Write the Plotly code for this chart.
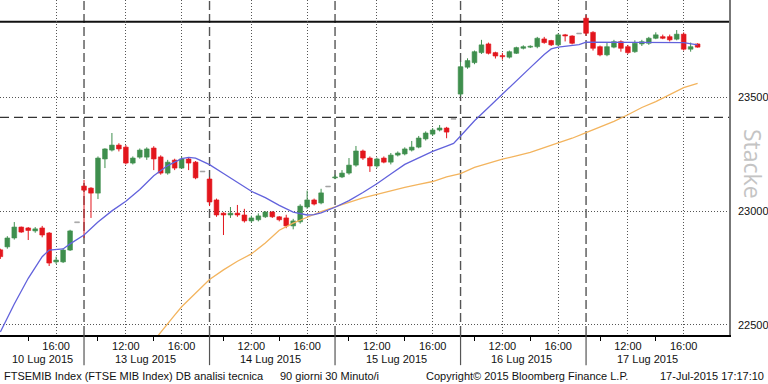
import plotly.graph_objects as go

# ---------------- data ----------------
day_labels = ["10 Lug 2015", "13 Lug 2015", "14 Lug 2015", "15 Lug 2015", "16 Lug 2015", "17 Lug 2015"]
slots_per_day = 18          # 30-minute bars 09:00 ... 17:30
first_slot = 6              # first visible bar: 10 Lug 12:00
major_slots = [6, 14]       # 12:00, 16:00
major_labels = ["12:00", "16:00"]
minor_slots = [2, 10]       # 10:00, 14:00

opens = [
    22830, 22843, 22882, 22930, 22926, 22913, 22926, 22904, 22777, 22777, 22829, 22949,
    23110, 23101, 23079, 23229, 23268, 23290, 23281, 23211, 23237, 23237, 23277, 23238, 23167, 23224, 23189, 23229, 23215, 23172,
    23141, 23049, 22991, 22983, 22991, 22983, 22957, 22962, 22975, 22996, 22975, 22970, 22935, 22953, 23018, 23049, 23036, 23106,
    23146, 23150, 23167, 23202, 23264, 23233, 23198, 23233, 23215, 23246, 23251, 23268, 23281, 23317, 23338, 23356, 23365, 23403,
    23514, 23632, 23652, 23696, 23734, 23696, 23683, 23676, 23693, 23715, 23720, 23722, 23756, 23749, 23730, 23774, 23769, 23778,
    23847, 23785, 23722, 23686, 23720, 23744, 23722, 23700, 23734, 23737, 23759, 23766, 23766, 23755, 23777, 23711, 23734,
]
highs = [
    22835, 22890, 22952, 22932, 22930, 22930, 22935, 22908, 22800, 22835, 22918, 22949,
    23137, 23105, 23240, 23276, 23343, 23298, 23290, 23240, 23275, 23280, 23285, 23245, 23225, 23230, 23240, 23235, 23220, 23172,
    23150, 23055, 22995, 23018, 23027, 23010, 22980, 22990, 23000, 23000, 22978, 22984, 22966, 23030, 23090, 23055, 23098, 23106,
    23160, 23180, 23233, 23286, 23270, 23240, 23235, 23240, 23255, 23262, 23280, 23308, 23330, 23350, 23365, 23378, 23370, 23403,
    23656, 23671, 23705, 23752, 23740, 23700, 23695, 23705, 23722, 23728, 23728, 23765, 23765, 23752, 23780, 23778, 23772, 23778,
    23861, 23790, 23727, 23740, 23752, 23750, 23730, 23750, 23752, 23765, 23785, 23775, 23775, 23795, 23785, 23740, 23737,
]
lows = [
    22790, 22835, 22875, 22905, 22873, 22905, 22885, 22759, 22768, 22772, 22825, 22949,
    22882, 22970, 23053, 23189, 23262, 23262, 23205, 23205, 23230, 23225, 23180, 23160, 23160, 23180, 23185, 23180, 23140, 23172,
    23022, 22975, 22895, 22970, 22975, 22950, 22950, 22955, 22970, 22970, 22955, 22925, 22920, 22945, 23010, 23025, 23030, 23106,
    23140, 23145, 23160, 23195, 23225, 23172, 23190, 23210, 23205, 23240, 23245, 23262, 23276, 23310, 23330, 23350, 23320, 23403,
    23505, 23625, 23645, 23690, 23688, 23670, 23665, 23670, 23690, 23710, 23716, 23715, 23735, 23725, 23725, 23745, 23732, 23778,
    23770, 23705, 23680, 23680, 23715, 23700, 23690, 23695, 23725, 23730, 23755, 23755, 23745, 23750, 23705, 23700, 23718,
]
closes = [
    22800, 22882, 22930, 22908, 22915, 22922, 22895, 22772, 22785, 22829, 22913, 22949,
    23092, 23079, 23233, 23273, 23290, 23273, 23211, 23233, 23268, 23273, 23229, 23167, 23215, 23189, 23229, 23211, 23146, 23172,
    23040, 22983, 22983, 22991, 22983, 22957, 22970, 22979, 22996, 22975, 22962, 22935, 22957, 23022, 23049, 23031, 23080, 23106,
    23150, 23167, 23202, 23264, 23233, 23198, 23229, 23215, 23246, 23255, 23273, 23281, 23321, 23343, 23356, 23365, 23347, 23403,
    23634, 23661, 23700, 23730, 23693, 23681, 23678, 23700, 23718, 23722, 23723, 23759, 23740, 23730, 23774, 23769, 23737, 23778,
    23781, 23715, 23686, 23722, 23744, 23715, 23696, 23737, 23744, 23759, 23774, 23759, 23752, 23777, 23711, 23722, 23720,
]

# moving averages (bar index -> value)
ma_fast_bar = [6, 8, 10, 12, 13, 15, 16, 18, 20, 22, 24, 26, 28, 30, 32, 33, 34, 36, 38, 40, 42, 44, 46, 48, 50, 51, 52,
               54, 56, 58, 60, 62, 64, 66, 68, 70, 71, 72, 74, 76, 78, 80, 82, 84, 85, 86, 88, 89, 90, 92, 96, 100, 104, 106]
ma_fast_val = [22469, 22592, 22705, 22800, 22829, 22834, 22856, 22895, 22952, 23001, 23043, 23095, 23155, 23200, 23230,
               23236, 23233, 23204, 23165, 23127, 23087, 23059, 23025, 22996, 22983, 22985, 22992, 23017, 23046, 23082,
               23120, 23163, 23205, 23234, 23262, 23285, 23297, 23330, 23397, 23455, 23512, 23573, 23630, 23688, 23712,
               23720, 23728, 23731, 23742, 23742, 23742, 23741, 23740, 23730]
ma_slow_bar = [28, 29, 30, 31, 32, 34, 36, 38, 40, 42, 44, 46, 48, 50, 52, 54, 56, 58, 60, 62, 64, 66, 68, 70, 72, 74,
               76, 78, 80, 82, 84, 86, 88, 90, 92, 94, 96, 98, 100, 102, 104, 106]
ma_slow_val = [22430, 22466, 22505, 22543, 22580, 22640, 22700, 22742, 22780, 22812, 22860, 22916, 22947, 22973, 22998,
               23019, 23040, 23058, 23073, 23089, 23104, 23117, 23130, 23150, 23165, 23192, 23211, 23228, 23243, 23258,
               23279, 23300, 23320, 23345, 23370, 23394, 23423, 23455, 23481, 23513, 23542, 23561]

resistance = 23832
support = 23412
y_ticks = [22500, 23000, 23500]

# ---------------- styling ----------------
GREEN = "#3f8f4e"
RED = "#e3161d"
GRAY = "#a0a0a0"
BLUE = "#6262dc"
ORANGE = "#f3b45e"
FONT = "Liberation Sans"

n = len(opens)
xs = [first_slot + i for i in range(n)]
colors = []
for o, c in zip(opens, closes):
    colors.append(GREEN if c > o else (RED if c < o else GRAY))

fig = go.Figure()

# wicks
for col in (GREEN, RED, GRAY):
    wx, wy = [], []
    for x, h, l, c in zip(xs, highs, lows, colors):
        if c == col:
            wx += [x, x, None]
            wy += [l, h, None]
    fig.add_trace(go.Scatter(x=wx, y=wy, mode="lines", line=dict(color=col, width=1),
                             hoverinfo="skip", showlegend=False))

# bodies
base = [min(o, c) for o, c in zip(opens, closes)]
height = [max(abs(c - o), 4) for o, c in zip(opens, closes)]
fig.add_trace(go.Bar(x=xs, y=height, base=base, width=0.68,
                     marker=dict(color=colors, line=dict(color=colors, width=0.6)),
                     hoverinfo="skip", showlegend=False))

# moving averages
fig.add_trace(go.Scatter(x=ma_slow_bar, y=ma_slow_val, mode="lines",
                         line=dict(color=ORANGE, width=1.3), hoverinfo="skip", showlegend=False))
fig.add_trace(go.Scatter(x=ma_fast_bar, y=ma_fast_val, mode="lines",
                         line=dict(color=BLUE, width=1.3), hoverinfo="skip", showlegend=False))

# right-side tick arrows
x_min, x_max = 5.95, 110.5
fig.add_trace(go.Scatter(x=[x_max + 0.35] * len(y_ticks), y=y_ticks, mode="markers",
                         marker=dict(symbol="triangle-right", size=6, color="black"),
                         cliponaxis=False, hoverinfo="skip", showlegend=False))

# x ticks
tickvals, ticktext, minor_vals = [], [], []
for d in range(len(day_labels)):
    for s, lab in zip(major_slots, major_labels):
        v = d * slots_per_day + s
        if v > x_min + 1 and v < x_max:
            tickvals.append(v)
            ticktext.append(lab)
    for s in minor_slots:
        v = d * slots_per_day + s
        if x_min < v < x_max:
            minor_vals.append(v)

shapes = []
# day separators
for d in range(1, len(day_labels)):
    xv = d * slots_per_day
    shapes.append(dict(type="line", xref="x", yref="paper", x0=xv, x1=xv, y0=0, y1=1,
                       line=dict(color="#555555", width=1.4, dash="9px,4px"), layer="between"))
    shapes.append(dict(type="line", xref="x", yref="paper", x0=xv, x1=xv, y0=0, y1=-0.09,
                       line=dict(color="#555555", width=1.2), layer="above"))
shapes.append(dict(type="line", xref="paper", yref="y", x0=0, x1=1, y0=resistance, y1=resistance,
                   line=dict(color="#111111", width=2), layer="between"))
shapes.append(dict(type="line", xref="paper", yref="y", x0=0, x1=1, y0=support, y1=support,
                   line=dict(color="#333333", width=1.3, dash="9px,5px"), layer="between"))

annotations = []
# date labels
for d, lab in enumerate(day_labels):
    if d == 0:
        xc = (x_min + slots_per_day) / 2
    else:
        xc = d * slots_per_day + 8.75
    annotations.append(dict(x=xc, y=0, xref="x", yref="paper", text=lab, showarrow=False,
                            yanchor="middle", yshift=-24, font=dict(family=FONT, size=11, color="#111")))
# y labels
for v in y_ticks:
    annotations.append(dict(x=1, y=v, xref="paper", yref="y", text=str(v), showarrow=False,
                            xanchor="left", xshift=7, yanchor="middle",
                            font=dict(family=FONT, size=11, color="#111")))
# footer
W = 729.0
footer = [("FTSEMIB Index (FTSE MIB Index) DB analisi tecnica", 2, "left"),
          ("90 giorni 30 Minuto/i", 278, "left"),
          ("Copyright\u00a9 2015 Bloomberg Finance L.P.", 424, "left"),
          ("17-Jul-2015 17:17:10", 766, "right")]
for txt, px, anc in footer:
    annotations.append(dict(x=px / W, y=0, xref="paper", yref="paper", text=txt, showarrow=False,
                            xanchor=anc, yanchor="middle", yshift=-41,
                            font=dict(family=FONT, size=11, color="#111")))
annotations.append(dict(x=753 / W, y=23207, xref="paper", yref="y", text="Stacke", showarrow=False,
                        textangle=90, xanchor="center", yanchor="middle",
                        font=dict(family="Open Sans", size=23, color="#c4c4c4")))

fig.update_layout(
    width=768, height=384,
    margin=dict(l=0, r=39, t=0, b=49),
    paper_bgcolor="white", plot_bgcolor="white",
    barmode="overlay", showlegend=False,
    shapes=shapes, annotations=annotations,
    xaxis=dict(range=[x_min, x_max], tickmode="array", tickvals=tickvals, ticktext=ticktext,
               showgrid=True, gridcolor="#555555", gridwidth=1, griddash="1px,2px",
               zeroline=False, showline=True, linecolor="black", linewidth=1.5,
               ticks="", tickfont=dict(family=FONT, size=11, color="#111"),
               minor=dict(tickmode="array", tickvals=minor_vals, ticks="outside", ticklen=4,
                          tickcolor="black", tickwidth=1, showgrid=False),
               fixedrange=True),
    yaxis=dict(range=[22456, 23927], side="right", tickvals=y_ticks, showticklabels=False,
               showgrid=True, gridcolor="#555555", gridwidth=1, griddash="1px,2px",
               zeroline=False, showline=True, linecolor="#777777", linewidth=1.5, ticks="",
               fixedrange=True),
)

fig.write_html("out.html", config={"displayModeBar": False},
               post_script="document.body.style.margin='0';document.body.style.overflow='hidden';")
